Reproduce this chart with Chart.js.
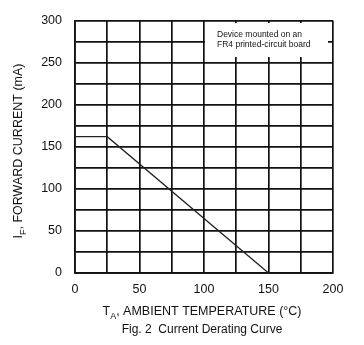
<!DOCTYPE html>
<html>
<head>
<meta charset="utf-8">
<script src="https://cdn.jsdelivr.net/npm/chart.js@4/dist/chart.umd.min.js"></script>
<style>
  html, body { margin: 0; padding: 0; background: #fff; }
  #wrap { width: 364px; height: 345px; position: relative; }
</style>
</head>
<body>
<div id="wrap"><canvas id="derating"></canvas></div>
<script>
(function() {
	'use strict';

	// ambient temperature (°C) and max forward current (mA)
	var temps    = [0, 25, 150];
	var currents = [162, 162, 0];

	var xTicks = [0, 50, 100, 150, 200];
	var yTicks = [0, 50, 100, 150, 200, 250, 300];

	var noteLines = ['Device mounted on an', 'FR4 printed-circuit board'];
	var FONT = '"Liberation Sans", Arial, sans-serif';

	// draws text with a subscript after the first letter
	function subText(ctx, main, sub, rest, x, y, size) {
		ctx.font = size + 'px ' + FONT;
		var w1 = ctx.measureText(main).width;
		ctx.font = (size * 0.72) + 'px ' + FONT;
		var w2 = ctx.measureText(sub).width;
		ctx.font = size + 'px ' + FONT;
		var w3 = ctx.measureText(rest).width;
		var start = x - (w1 + w2 + w3) / 2;
		ctx.textAlign = 'left';
		ctx.fillText(main, start, y);
		ctx.font = (size * 0.72) + 'px ' + FONT;
		ctx.fillText(sub, start + w1, y + size * 0.3);
		ctx.font = size + 'px ' + FONT;
		ctx.fillText(rest, start + w1 + w2, y);
	}

	var labelsPlugin = {
		id: 'labels',
		afterDraw: function(chart) {
			var ctx = chart.ctx;
			ctx.save();
			// note box sitting over the grid
			ctx.fillStyle = '#fff';
			ctx.fillRect(205, 23, 123, 34);
			ctx.fillStyle = '#111';
			ctx.font = '8.5px ' + FONT;
			ctx.textAlign = 'left';
			ctx.textBaseline = 'alphabetic';
			ctx.fillText(noteLines[0], 217, 37);
			ctx.fillText(noteLines[1], 217, 46.5);

			// x title and caption
			subText(ctx, 'T', 'A', ', AMBIENT TEMPERATURE (\u00B0C)', 202, 315, 12.5);
			ctx.font = '12px ' + FONT;
			ctx.textAlign = 'center';
			ctx.fillText('Fig. 2  Current Derating Curve', 202, 333);

			// y title
			ctx.translate(22, 151);
			ctx.rotate(-Math.PI / 2);
			subText(ctx, 'I', 'F', ', FORWARD CURRENT (mA)', 0, 0, 12.5);
			ctx.restore();
		}
	};

	var ctx = document.getElementById('derating').getContext('2d');
	new Chart(ctx, {
		type: 'line',
		data: {
			datasets: [{
				data: temps.map(function(t, i) { return { x: t, y: currents[i] }; }),
				borderColor: '#222',
				borderWidth: 1.3,
				pointRadius: 0,
				fill: false,
				tension: 0
			}]
		},
		options: {
			responsive: true,
			maintainAspectRatio: false,
			animation: false,
			events: [],
			layout: { padding: { left: 0, top: 15, right: 31, bottom: 0 } },
			plugins: {
				legend: { display: false },
				tooltip: { enabled: false }
			},
			scales: {
				x: {
					type: 'linear',
					min: 0, max: 200,
					afterFit: function(s) { s.height = 72; },
					afterBuildTicks: function(s) {
						var t = [];
						for (var v = 0; v <= 200; v += 25) t.push({ value: v });
						s.ticks = t;
					},
					ticks: {
						color: '#111',
						font: { family: FONT, size: 12.5 },
						padding: 9,
						maxRotation: 0,
						autoSkip: false,
						callback: function(v) { return xTicks.indexOf(v) >= 0 ? String(v) : ''; }
					},
					grid: { color: '#111', lineWidth: 1.7, drawTicks: false },
					border: { color: '#111', width: 1.7 }
				},
				y: {
					type: 'linear',
					min: 0, max: 300,
					afterFit: function(s) { s.width = 75; },
					afterBuildTicks: function(s) {
						var t = [];
						for (var v = 0; v <= 300; v += 25) t.push({ value: v });
						s.ticks = t;
					},
					ticks: {
						color: '#111',
						font: { family: FONT, size: 12.5 },
						padding: 13,
						autoSkip: false,
						callback: function(v) { return yTicks.indexOf(v) >= 0 ? String(v) : ''; }
					},
					grid: { color: '#111', lineWidth: 1.7, drawTicks: false },
					border: { color: '#111', width: 1.7 }
				}
			}
		},
		plugins: [labelsPlugin]
	});
})();
</script>
</body>
</html>
